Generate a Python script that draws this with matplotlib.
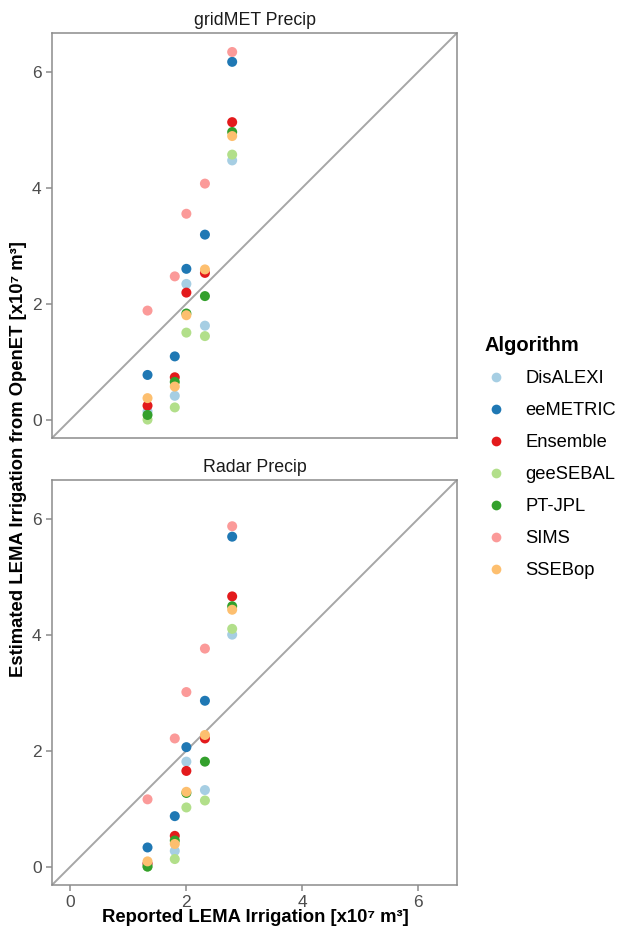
import matplotlib
matplotlib.use("Agg")
import matplotlib.pyplot as plt
from matplotlib.lines import Line2D

plt.rcParams['font.family'] = ['Liberation Sans', 'DejaVu Sans']

# reported LEMA irrigation (x10^7 m3), one per year
reported = [1.33, 1.80, 2.00, 2.32, 2.79]

algorithms = ['DisALEXI', 'eeMETRIC', 'Ensemble', 'geeSEBAL', 'PT-JPL', 'SIMS', 'SSEBop']
colors = ['#A6CEE3', '#1F78B4', '#E31A1C', '#B2DF8A', '#33A02C', '#FB9A99', '#FDBF6F']

# estimated irrigation, gridMET precip
gridmet = {
    'DisALEXI': [0.14, 0.41, 2.34, 1.62, 4.47],
    'eeMETRIC': [0.77, 1.09, 2.60, 3.19, 6.17],
    'Ensemble': [0.24, 0.73, 2.19, 2.53, 5.13],
    'geeSEBAL': [0.00, 0.21, 1.50, 1.44, 4.57],
    'PT-JPL':   [0.08, 0.65, 1.83, 2.13, 4.96],
    'SIMS':     [1.88, 2.47, 3.55, 4.07, 6.34],
    'SSEBop':   [0.37, 0.57, 1.80, 2.59, 4.89],
}

# estimated irrigation, radar precip
radar = {
    'DisALEXI': [0.05, 0.27, 1.81, 1.32, 4.00],
    'eeMETRIC': [0.33, 0.87, 2.06, 2.86, 5.69],
    'Ensemble': [0.05, 0.53, 1.65, 2.21, 4.66],
    'geeSEBAL': [0.00, 0.13, 1.02, 1.14, 4.10],
    'PT-JPL':   [0.00, 0.45, 1.27, 1.81, 4.49],
    'SIMS':     [1.16, 2.21, 3.01, 3.76, 5.87],
    'SSEBop':   [0.09, 0.39, 1.29, 2.27, 4.43],
}

panels = [('gridMET Precip', gridmet), ('Radar Precip', radar)]

lim_max = 6.35
pad = lim_max * 0.05
lims = (-pad, lim_max + pad)

fig = plt.figure(figsize=(6.18, 9.36), dpi=100)
W, H = 618, 936
ax_left, ax_w = 52 / W, 405 / W
tops = [33, 480]
border = '#8C8C8C'
tick_col = '#4D4D4D'

for i, (title, data) in enumerate(panels):
    top = tops[i]
    ax = fig.add_axes([ax_left, 1 - (top + 405) / H, ax_w, 405 / H])
    ax.plot(lims, lims, color='#A6A6A6', lw=1.4, zorder=1)
    for alg, c in zip(algorithms, colors):
        ax.scatter(reported, data[alg], s=52, color=c, edgecolors='none', zorder=2)
    ax.set_xlim(lims)
    ax.set_ylim(lims)
    ax.set_xticks([0, 2, 4, 6])
    ax.set_yticks([0, 2, 4, 6])
    for sp in ax.spines.values():
        sp.set_color(border)
        sp.set_linewidth(1.1)
    ax.tick_params(colors=border, labelcolor=tick_col, labelsize=12.5,
                   length=4, width=1.1, direction='out')
    if i == 0:
        ax.tick_params(axis='x', bottom=False, labelbottom=False)
    ax.set_title(title, fontsize=12.8, color='#1A1A1A', pad=6)

fig.text(255 / W, 1 - 918 / H, 'Reported LEMA Irrigation [x10\u2077 m\u00b3]',
         ha='center', va='center', fontsize=13.3, fontweight='bold')
fig.text(19 / W, 1 - 459 / H, 'Estimated LEMA Irrigation from OpenET [x10\u2077 m\u00b3]',
         ha='center', va='center', rotation=90, fontsize=13.3, fontweight='bold')

handles = [Line2D([], [], marker='o', ls='', color=c, markersize=7, markeredgewidth=0)
           for c in colors]
fig.legend(handles, algorithms, title='Algorithm', loc='upper left',
           bbox_to_anchor=(485 / W, 1 - 336 / H), frameon=False, fontsize=13.2,
           title_fontproperties={'weight': 'bold', 'size': 14.5},
           labelspacing=0.82, handletextpad=1.0, handlelength=1.2,
           borderpad=0, borderaxespad=0, alignment='left')

fig.savefig('out.png', dpi=100)
